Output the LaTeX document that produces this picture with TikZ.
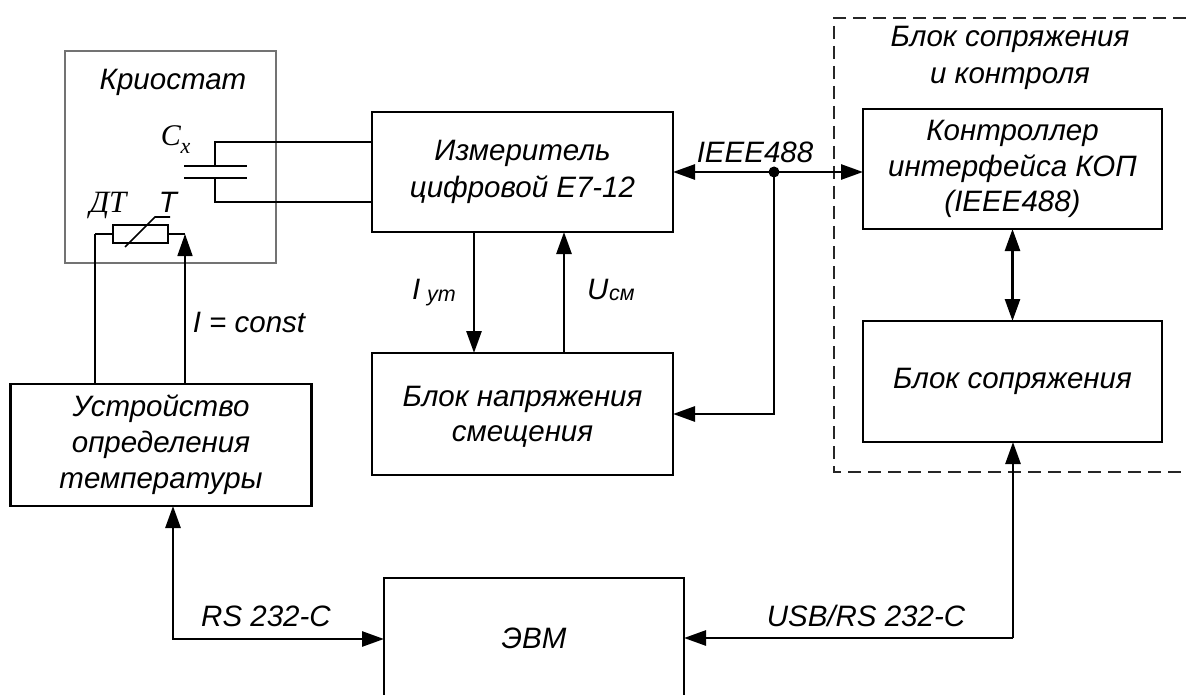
\documentclass[tikz,border=0pt]{standalone}
\usepackage{fontspec}
\setmainfont{Liberation Sans}
\newfontfamily\timesf{Liberation Serif}
\usetikzlibrary{arrows.meta}
\tikzset{
  x=1pt,y=-1pt,
  boxn/.style={draw=black,line width=2.7pt,inner sep=0pt,outer sep=0pt,align=center,font=\fontsize{29.5}{37}\selectfont\itshape,fill=none},
  hollow/.style={boxn,draw=none},
  cryobox/.style={draw=black!55,line width=1.3pt,inner sep=0pt,outer sep=0pt},
  lab/.style={inner sep=0pt,outer sep=0pt,anchor=base,font=\fontsize{29.5}{37}\selectfont\itshape,align=center},
  sublab/.style={lab,anchor=base west,font=\fontsize{21.5}{24}\selectfont\itshape},
  wire/.style={line width=2.7pt,draw=black},
  thin wire/.style={line width=1.6pt,draw=black},
  tipe/.style={-{Triangle[length=22pt,width=15pt]}},
  tipb/.style={{Triangle[length=22pt,width=15pt]}-{Triangle[length=22pt,width=15pt]}},
  dashbox/.style={line width=1.5pt,draw=black!85,dash pattern=on 13pt off 7pt}
}
\begin{document}
\begin{tikzpicture}
\useasboundingbox (0,0) rectangle (1186,695);
\fill[white] (0,0) rectangle (1186,695);
% frames
\node[cryobox,minimum width=211pt,minimum height=212pt] (cryo) at (170.5,157) {};
\draw[dashbox] (1186,18) -- (834,18) -- (834,472) -- (1186,472);
% boxes
\node[boxn,minimum width=301pt,minimum height=120pt] (meas) at (522.5,172) {Измеритель\\цифровой Е7-12};
\node[boxn,font=\fontsize{29.5}{35.5}\selectfont\itshape,minimum width=299pt,minimum height=120pt] (ctrl) at (1012.5,169) {Контроллер\\интерфейса КОП\\(IEEE488)};
\node[boxn,minimum width=299pt,minimum height=121pt] (coup) at (1012.5,381.5) {Блок сопряжения};
\node[boxn,font=\fontsize{29.5}{35}\selectfont\itshape,minimum width=301pt,minimum height=122pt] (bias) at (522.5,414) {\rule{0pt}{25pt}Блок напряжения\\смещения};
\node[boxn,font=\fontsize{29.5}{36}\selectfont\itshape,minimum width=301pt,minimum height=122pt] (tdev) at (161,445) {Устройство\\определения\\температуры};
\node[hollow,minimum width=300pt,minimum height=122pt] (evm) at (534,639) {};
\draw[wire] (evm.north west |- 0,695) -- (evm.north west) -- (evm.north east) -- (evm.north east |- 0,695);
\node[boxn,line width=2.8pt,minimum width=55pt,minimum height=18pt] (therm) at (140.5,234) {};
% capacitor
\coordinate (pta) at (184,166); \coordinate (ptb) at (247,166);
\coordinate (pba) at (184,178); \coordinate (pbb) at (247,178);
\coordinate (capx) at (215,166); \coordinate (capy) at (215,178);
\coordinate (ca) at (215,142); \coordinate (cb) at (215,202);
\draw[wire] (pta) -- (ptb);
\draw[wire] (pba) -- (pbb);
\draw[wire] (capx) -- (ca) -- (ca -| meas.west);
\draw[wire] (capy) -- (cb) -- (cb -| meas.west);
% thermistor
\coordinate (xl) at (95,234); \coordinate (xr) at (185,234);
\coordinate (sa) at (125,247); \coordinate (sb) at (155,217); \coordinate (sc) at (170,217);
\draw[line width=1.7pt] (sa) -- (sb) -- (sc);
\draw[wire] (therm.west) -- (xl);
\draw[wire] (therm.east) -- (xr);
\draw[thin wire] (xl) -- (xl |- tdev.north);
\draw[thin wire,tipe] (xr |- tdev.north) -- (xr);
% links
\coordinate (xi) at (474,0); \coordinate (xu) at (564,0);
\draw[wire,tipe] (xi |- meas.south) -- (xi |- bias.north);
\draw[wire,tipe] (xu |- bias.north) -- (xu |- meas.south);
\coordinate (jn) at (774,172);
\draw[wire,tipb] (meas.east) -- (meas.east -| ctrl.west);
\draw[wire,tipe] (jn) |- (bias.east);
\fill (jn) circle[radius=5.5pt];
\draw[wire,tipb] (ctrl.south) -- (coup.north);
\coordinate (ra) at (173,639); \coordinate (ub) at (1013,638);
\draw[wire,tipb] (ra |- tdev.south) -- (ra) -- (evm.west);
\draw[wire,tipe] (ub) -- (ub -| evm.east);
\draw[wire,tipe] (ub) -- (ub |- coup.south);
% labels
\node[lab] (tcr) at (173,90) {Криостат};
\node[lab,font=\fontsize{30}{36}\selectfont\timesf\itshape] (tc) at (171,146) {C};
\node[lab,font=\fontsize{22}{36}\selectfont\timesf\itshape] (tx) at (185.5,154) {x};
\node[lab,font=\fontsize{31}{36}\selectfont\timesf\itshape] (tdt) at (108,213) {ДТ};
\node[lab] (tt) at (168,213) {T};
\node[lab] (tblk) at (1010,47) {Блок сопряжения};
\node[lab] (tblk2) at (1010,84) {и контроля};
\node[lab] (tie) at (755,163) {IEEE488};
\node[lab] (tic) at (249,332) {I = const};
\node[lab,anchor=base west] (ti) at (412,299) {I};
\node[sublab] (tit) at (427,301) {ут};
\node[lab,anchor=base west] (tu) at (587,299) {U};
\node[sublab] (tus) at (609,300) {см};
\node[lab] (trs) at (266,626) {RS 232-C};
\node[lab] (tusb) at (866,626) {USB/RS 232-C};
\node[lab] (tevm) at (534,648) {ЭВМ};
\end{tikzpicture}
\end{document}
